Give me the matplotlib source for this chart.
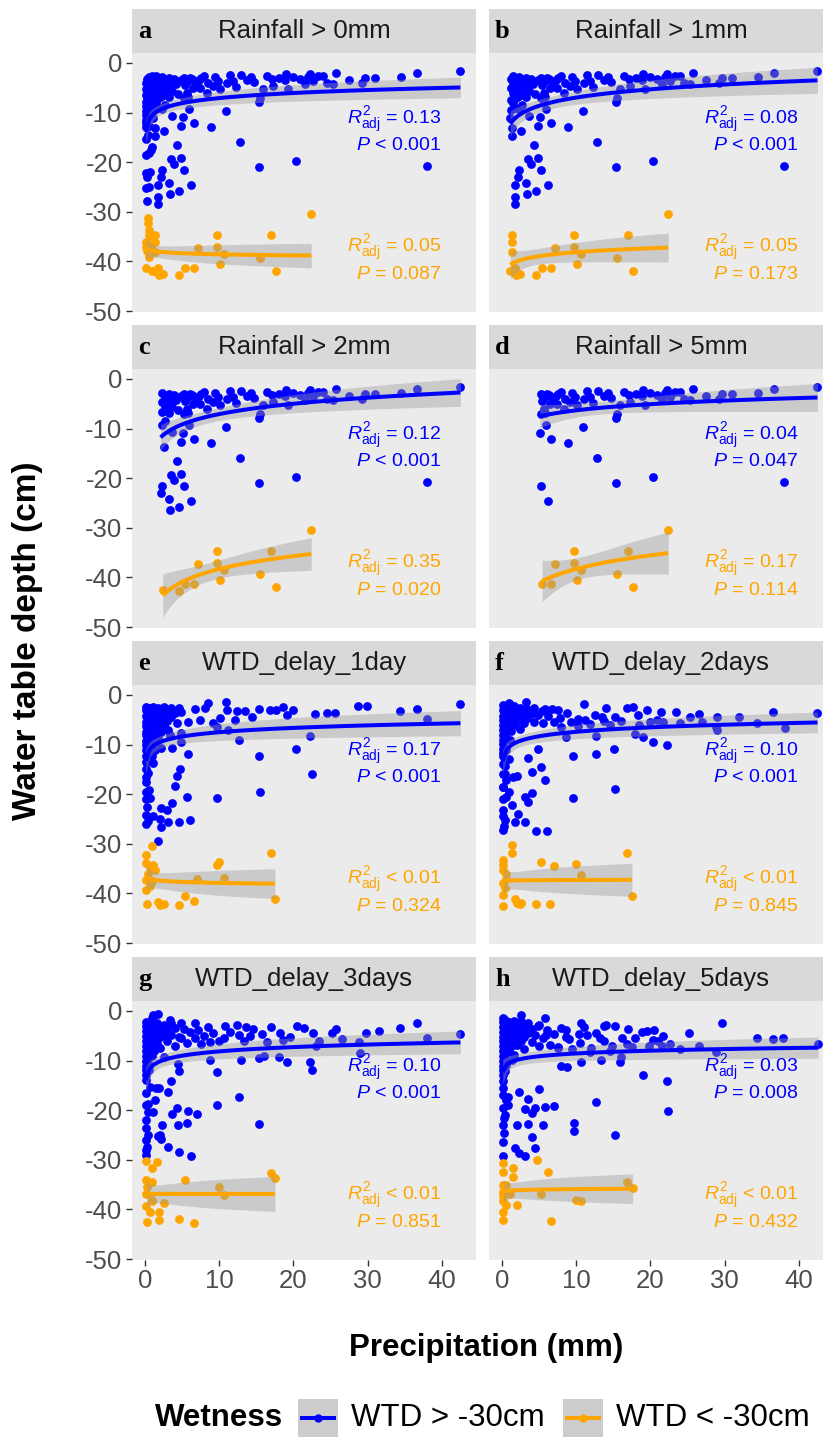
import numpy as np
import matplotlib.pyplot as plt
from matplotlib.patches import Rectangle
from matplotlib.lines import Line2D

plt.rcParams['font.family'] = ['Liberation Sans', 'DejaVu Sans']
plt.rcParams['mathtext.fontset'] = 'custom'
plt.rcParams['mathtext.rm'] = 'Liberation Sans'
plt.rcParams['mathtext.it'] = 'Liberation Sans:italic'
plt.rcParams['axes.unicode_minus'] = False

# ---- data: (precipitation mm, water table depth cm) ----
# same-day rainfall; panels a-d are subsets of it (rainfall > threshold)
rain_wet = [
    (42.5, -1.6), (36.6, -2.0), (34.5, -2.9), (29.7, -3.1), (29.2, -4.1), (25.7, -2.1),
    (25.3, -4.2), (24.5, -4.0), (23.3, -2.6), (22.6, -3.6), (21.9, -2.9), (21.6, -4.3),
    (20.9, -3.3), (19.9, -2.9), (19.3, -5.2), (18.9, -3.4), (18.1, -3.1), (17.3, -4.6),
    (17.1, -3.3), (15.9, -5.3), (15.5, -7.1), (15.4, -7.8), (14.7, -3.8), (14.3, -2.9),
    (13.7, -3.4), (12.3, -4.8), (11.8, -3.7), (11.0, -4.0), (10.1, -5.3), (9.9, -3.6),
    (9.1, -4.6), (8.5, -4.1), (8.3, -6.1), (7.6, -3.0), (7.4, -5.1), (7.3, -3.4),
    (6.9, -4.0), (6.5, -5.0), (6.3, -3.2), (6.1, -3.1), (5.8, -3.6), (5.8, -6.8),
    (5.6, -6.0), (5.4, -4.5), (5.3, -7.0), (5.2, -3.0),
    (8.0, -2.6), (9.5, -2.8), (11.5, -2.5), (13.0, -2.4), (16.5, -2.6), (19.0, -2.2),
    (22.2, -2.2), (24.0, -2.6), (27.5, -3.4), (31.0, -3.0),
    (1.3, -13.2), (1.3, -14.8), (2.6, -13.8), (4.3, -16.5), (3.5, -19.4), (4.8, -19.2),
    (3.9, -20.3), (5.3, -21.6), (2.3, -21.6), (2.1, -22.9), (1.7, -24.6), (3.2, -24.1),
    (1.8, -27.1), (1.7, -28.4), (4.6, -25.8), (6.2, -24.7), (3.4, -26.4), (6.6, -12.2),
    (8.9, -13.0), (10.9, -9.6), (12.8, -16.0), (15.4, -20.9), (20.4, -19.7), (38.0, -20.8),
    (5.1, -10.9), (3.6, -10.7), (4.9, -12.7), (5.9, -9.2),
    (0.2, -18.5), (0.6, -18.2), (0.9, -16.9), (0.2, -22.2), (0.3, -23.0), (0.5, -25.0),
    (0.2, -25.3), (0.3, -27.9), (0.4, -14.5), (0.15, -15.3), (0.7, -22.0), (0.8, -17.5),
    (0.1, -5.2), (0.1, -7.8), (0.1, -9.6), (0.1, -11.5), (0.1, -13.0),
    (0.2, -4.1), (0.2, -6.5), (0.2, -8.7), (0.2, -10.4), (0.2, -12.2),
    (0.3, -3.3), (0.3, -5.8), (0.3, -7.2), (0.3, -9.1), (0.3, -11.0),
    (0.5, -2.9), (0.5, -4.6), (0.5, -6.0), (0.5, -8.1), (0.5, -10.0), (0.5, -12.8),
    (0.7, -3.8), (0.7, -5.3), (0.7, -7.0), (0.7, -9.0),
    (0.9, -2.6), (0.9, -4.4), (0.9, -6.4), (0.9, -8.3), (0.9, -10.9),
    (1.2, -3.2), (1.2, -5.0), (1.2, -7.5), (1.2, -9.5), (1.1, -11.2),
    (1.5, -2.7), (1.5, -4.2), (1.5, -6.1), (1.5, -8.0),
    (1.9, -3.5), (1.9, -5.4), (1.9, -7.1), (1.8, -9.0),
    (2.3, -2.9), (2.3, -4.7), (2.3, -6.6), (2.3, -9.3),
    (2.7, -3.6), (2.7, -5.5), (2.7, -8.4),
    (3.2, -3.0), (3.2, -4.4), (3.2, -6.8),
    (3.6, -5.6), (3.9, -3.3), (4.2, -4.2), (4.5, -6.3), (4.8, -3.5),
]
rain_dry = [
    (0.4, -31.3), (0.4, -32.3), (0.5, -33.7), (0.6, -34.7), (0.7, -36.7), (0.8, -37.4),
    (0.5, -38.4), (0.6, -39.2), (0.3, -38.0), (0.2, -36.0), (0.2, -41.4), (0.9, -42.0),
    (0.15, -37.2), (0.9, -35.0), (1.1, -41.9), (1.3, -34.6), (1.3, -36.0), (1.4, -38.2),
    (1.7, -42.3), (1.8, -41.4), (1.9, -42.7), (2.4, -42.5), (4.6, -42.8), (5.4, -41.4),
    (6.6, -41.3), (7.1, -37.4), (9.7, -34.6), (9.7, -37.2), (10.7, -38.5), (10.1, -40.6),
    (15.5, -39.3), (17.0, -34.7), (17.6, -41.9), (22.4, -30.5),
]

lag1_wet = [
    (42.5, -1.9), (36.6, -2.9), (34.4, -3.2), (29.9, -2.3), (28.7, -2.3), (25.6, -3.6),
    (24.5, -3.7), (22.9, -3.9), (20.0, -3.0), (18.6, -2.4), (17.7, -3.0), (16.8, -3.0),
    (15.3, -2.8), (13.5, -3.2), (12.4, -3.2), (11.0, -3.0), (10.9, -1.5), (8.5, -1.7),
    (8.1, -2.7), (6.7, -2.8), (4.9, -3.4), (3.8, -3.0), (38.0, -4.9), (19.1, -4.0),
    (14.4, -4.4), (12.1, -5.0), (10.1, -4.7), (9.2, -5.7), (7.4, -5.0), (5.8, -5.4),
    (9.7, -6.4), (22.2, -8.3), (20.4, -10.9), (22.5, -15.9), (15.4, -12.4), (15.5, -19.6),
    (9.7, -20.8), (12.6, -9.1), (11.2, -7.1), (5.8, -11.9), (4.9, -9.4), (3.6, -10.6),
    (2.1, -10.6), (4.7, -15.0), (4.3, -16.3), (4.0, -18.3), (5.6, -20.6), (3.6, -21.8),
    (2.2, -22.8), (2.9, -23.2), (6.1, -25.2), (4.6, -25.7), (3.1, -25.7), (2.0, -25.0),
    (2.1, -26.7), (1.7, -29.4), (1.1, -24.5), (0.45, -25.5), (0.2, -24.2), (0.7, -20.8),
    (0.6, -19.2), (0.13, -16.5), (0.45, -15.8), (1.1, -13.8), (0.9, -12.4), (1.3, -11.1),
    (1.8, -8.7), (3.4, -8.1), (3.1, -7.1), (4.9, -7.7),
    (0.1, -15.0), (0.1, -17.5), (0.2, -19.5), (0.1, -21.0), (0.3, -22.5), (0.1, -26.0),
    (0.1, -3.0), (0.1, -5.5), (0.1, -7.4), (0.1, -9.3), (0.1, -11.2), (0.1, -13.5),
    (0.2, -2.4), (0.2, -4.3), (0.2, -6.2), (0.2, -8.1), (0.2, -10.0), (0.2, -12.3),
    (0.4, -3.4), (0.4, -5.0), (0.4, -6.9), (0.4, -8.8), (0.4, -10.7),
    (0.6, -2.6), (0.6, -4.5), (0.6, -6.0), (0.6, -7.8), (0.6, -9.7),
    (0.8, -3.1), (0.8, -5.2), (0.8, -7.3), (0.8, -11.6),
    (1.1, -2.5), (1.1, -4.0), (1.1, -5.9), (1.1, -8.0),
    (1.4, -3.3), (1.4, -5.1), (1.4, -6.9), (1.4, -9.5),
    (1.8, -2.6), (1.8, -4.3), (1.8, -6.2), (2.2, -3.0), (2.2, -5.0), (2.2, -7.4),
    (2.6, -2.4), (2.6, -4.1), (2.6, -6.0), (3.0, -3.3), (3.0, -5.3),
    (3.5, -2.7), (3.5, -4.4), (4.0, -3.6), (4.3, -5.6), (4.6, -2.7),
]
lag1_dry = [
    (0.9, -30.4), (0.2, -32.3), (0.2, -33.9), (0.7, -34.6), (1.1, -34.3), (0.45, -36.0),
    (0.2, -37.3), (0.9, -37.6), (0.7, -38.6), (0.2, -39.3), (0.3, -42.1), (1.8, -41.7),
    (2.0, -42.3), (2.5, -42.1), (4.6, -42.3), (5.4, -40.5), (6.6, -41.5), (7.0, -37.0),
    (9.7, -34.3), (10.0, -33.6), (10.6, -36.8), (17.0, -31.9), (17.5, -41.2), (1.3, -35.3),
]

lag2_wet = [
    (42.5, -3.7), (36.5, -3.4), (38.1, -6.7), (34.3, -5.7), (28.9, -6.4), (29.0, -7.1),
    (29.0, -4.5), (25.3, -4.5), (21.4, -3.5), (21.7, -5.4), (19.9, -5.4), (22.2, -10.1),
    (20.3, -9.5), (19.0, -8.4), (17.9, -7.9), (17.7, -2.5), (16.8, -2.7), (18.3, -4.0),
    (15.2, -4.5), (15.1, -10.8), (15.2, -19.0), (12.7, -8.3), (12.7, -11.9), (13.5, -4.5),
    (12.5, -4.0), (11.0, -1.8), (11.2, -5.0), (9.6, -12.4), (9.6, -20.7), (8.7, -3.7),
    (8.6, -8.5), (7.6, -3.0), (6.7, -2.9), (5.8, -2.9), (4.9, -10.9), (5.3, -14.6),
    (5.8, -17.1), (4.1, -15.5), (3.5, -12.8), (4.0, -19.7), (3.1, -20.5), (3.5, -21.5),
    (4.6, -27.4), (6.1, -27.4), (3.1, -25.7), (2.2, -23.9), (1.7, -25.7), (1.5, -16.5),
    (2.0, -16.3), (3.3, -1.5), (0.9, -1.7),
    (0.2, -18.5), (0.2, -23.2), (0.2, -27.2), (0.4, -25.2), (0.6, -20.5), (0.4, -14.4),
    (0.6, -17.1), (0.2, -12.4), (1.1, -9.1), (0.6, -11.1), (0.9, -19.5), (1.3, -22.2),
    (0.1, -16.0), (0.1, -18.5), (0.1, -21.0), (0.1, -24.5), (0.3, -26.5),
    (0.1, -2.0), (0.1, -4.2), (0.1, -6.1), (0.1, -8.0), (0.1, -9.9), (0.1, -11.8), (0.1, -14.0),
    (0.2, -3.0), (0.2, -5.1), (0.2, -7.0), (0.2, -9.0), (0.2, -10.9),
    (0.4, -2.3), (0.4, -4.0), (0.4, -5.8), (0.4, -7.7), (0.4, -16.0),
    (0.6, -3.4), (0.6, -5.2), (0.6, -6.9), (0.6, -8.6),
    (0.9, -2.6), (0.9, -4.6), (0.9, -6.3), (0.9, -13.0),
    (1.2, -3.1), (1.2, -5.0), (1.2, -7.2), (1.6, -2.2), (1.6, -4.1), (1.6, -6.0),
    (2.0, -3.3), (2.0, -5.3), (2.4, -2.6), (2.4, -4.4), (2.4, -6.8),
    (2.9, -3.6), (2.9, -5.6), (3.4, -2.9), (3.4, -4.7), (3.9, -3.8), (4.3, -2.6),
    (4.3, -5.5), (4.9, -4.0), (5.4, -3.3), (5.5, -5.7), (6.2, -4.3), (7.0, -5.5),
    (7.8, -4.6), (8.0, -6.5), (9.3, -5.4), (10.2, -4.8), (10.3, -6.3), (11.9, -5.8),
    (13.8, -5.3), (14.5, -6.0), (16.0, -5.2), (18.5, -6.1), (20.9, -5.0), (24.0, -5.6),
    (27.0, -5.5), (14.0, -2.6), (19.5, -3.0), (23.5, -3.4), (26.5, -3.8), (32.0, -4.4),
]
lag2_dry = [
    (1.4, -30.2), (1.3, -31.8), (0.2, -33.3), (0.2, -34.3), (0.2, -35.3), (0.6, -36.0),
    (0.2, -38.0), (0.4, -39.0), (0.2, -40.3), (0.2, -42.5), (1.7, -41.2), (2.0, -42.0),
    (2.4, -42.1), (2.6, -42.0), (4.6, -42.1), (6.5, -42.1), (5.3, -33.7), (7.0, -34.4),
    (10.0, -34.1), (10.6, -36.3), (16.9, -31.8), (17.5, -40.5), (0.6, -37.0),
]

lag3_wet = [
    (42.5, -4.7), (38.0, -5.4), (36.6, -2.5), (34.4, -3.5), (29.8, -4.4), (28.9, -6.2),
    (29.0, -8.4), (25.2, -4.5), (23.1, -7.0), (22.7, -4.5), (21.4, -3.4), (22.2, -10.3),
    (22.5, -11.9), (19.2, -10.2), (18.0, -9.2), (18.6, -5.8), (18.2, -4.5), (17.0, -3.2),
    (15.7, -4.7), (14.6, -3.6), (13.6, -3.2), (12.4, -2.8), (12.6, -4.8), (15.4, -9.5),
    (16.0, -9.0), (12.9, -9.9), (12.6, -17.3), (15.3, -22.8), (9.7, -19.0), (9.7, -12.4),
    (10.8, -3.0), (10.7, -5.5), (8.7, -9.9), (8.7, -6.2), (8.5, -3.2), (6.7, -2.5),
    (6.7, -5.5), (4.9, -2.5), (4.9, -5.5), (7.0, -20.8), (5.8, -20.1), (4.3, -19.6),
    (3.6, -20.8), (4.4, -23.0), (5.6, -22.6), (6.2, -29.2), (4.6, -28.4), (3.1, -27.4),
    (2.2, -25.8), (2.0, -25.0), (2.3, -23.0), (3.5, -14.2), (3.1, -16.3), (4.6, -12.2),
    (4.4, -10.6), (1.9, -15.5), (1.3, -17.9), (0.45, -18.8), (0.45, -20.3), (0.2, -22.0),
    (0.45, -25.0), (0.3, -27.4), (0.13, -29.0), (1.7, -25.3), (1.1, -20.3), (0.7, -15.3),
    (1.5, -15.6), (1.1, -0.8), (1.7, -0.7), (0.9, -1.5), (3.4, -1.8),
    (0.1, -16.5), (0.1, -19.0), (0.1, -23.5), (0.2, -26.0), (0.1, -28.0),
    (0.1, -2.2), (0.1, -4.1), (0.1, -6.0), (0.1, -8.0), (0.1, -10.0), (0.1, -12.0), (0.1, -14.0),
    (0.2, -3.1), (0.2, -5.1), (0.2, -7.0), (0.2, -9.0), (0.2, -11.0), (0.2, -13.0),
    (0.4, -2.6), (0.4, -4.5), (0.4, -6.5), (0.4, -8.4), (0.4, -10.5),
    (0.6, -3.5), (0.6, -5.5), (0.6, -7.6), (0.6, -12.0),
    (0.9, -2.9), (0.9, -4.8), (0.9, -6.8), (0.9, -9.0),
    (1.2, -3.8), (1.2, -5.8), (1.2, -8.0), (1.6, -2.4), (1.6, -4.4), (1.6, -6.5),
    (2.0, -3.3), (2.0, -5.2), (2.0, -7.5), (2.5, -2.8), (2.5, -4.6), (2.5, -9.2),
    (3.0, -3.6), (3.0, -6.0), (3.5, -2.5), (3.5, -4.9), (4.0, -3.4), (4.0, -7.0),
    (4.6, -5.2), (5.3, -3.6), (5.7, -6.4), (6.1, -4.3), (7.2, -3.9), (7.5, -6.6),
    (8.0, -5.0), (9.2, -4.4), (10.0, -6.0), (11.4, -4.2), (13.3, -6.1), (14.1, -5.0),
    (16.5, -6.3), (19.6, -5.2), (23.5, -6.0), (26.5, -5.7), (20.5, -3.0), (25.8, -3.6),
    (31.5, -4.0),
]
lag3_dry = [
    (0.2, -30.2), (1.6, -30.5), (0.9, -31.6), (0.2, -34.1), (0.9, -34.5), (0.3, -35.4),
    (0.2, -36.8), (0.9, -38.1), (0.2, -39.4), (0.7, -40.5), (1.9, -40.5), (0.3, -42.6),
    (1.9, -42.1), (4.6, -42.0), (6.6, -42.7), (5.4, -34.1), (10.0, -35.4), (10.6, -37.2),
    (17.0, -32.6), (17.5, -33.7), (1.0, -38.4), (2.5, -38.8),
]

lag5_wet = [
    (42.6, -6.7), (37.9, -5.4), (36.5, -5.7), (34.3, -5.5), (29.7, -2.4), (28.9, -8.3),
    (25.2, -4.5), (22.7, -6.7), (21.7, -5.0), (20.3, -5.8), (21.5, -7.0), (22.2, -14.2),
    (22.4, -20.1), (19.0, -12.9), (19.5, -4.0), (18.9, -4.3), (17.9, -5.5), (16.8, -6.7),
    (15.2, -3.0), (14.8, -7.0), (16.1, -9.2), (15.9, -10.2), (15.2, -25.0), (13.7, -3.0),
    (13.2, -5.4), (12.7, -4.4), (12.7, -18.3), (13.3, -9.9), (11.8, -8.2), (10.7, -2.5),
    (10.4, -4.7), (10.7, -10.2), (9.7, -22.6), (9.7, -24.2), (8.6, -3.8), (8.6, -5.2),
    (8.8, -11.4), (8.0, -11.2), (7.6, -7.3), (7.0, -19.2), (5.8, -19.4), (5.8, -1.5),
    (4.4, -19.5), (5.0, -15.7), (3.5, -17.8), (3.1, -19.8), (4.1, -20.6), (3.5, -22.8),
    (2.0, -23.0), (5.5, -23.0), (4.0, -25.5), (4.4, -27.6), (3.1, -29.2), (2.3, -28.7),
    (1.7, -27.7), (2.3, -16.3), (2.6, -0.8), (4.8, -3.0), (5.9, -4.8),
    (0.2, -29.2), (0.3, -24.7), (0.3, -21.6), (0.4, -21.0), (0.85, -19.0), (0.6, -17.9),
    (0.85, -17.3), (0.2, -14.2), (0.4, -12.2), (0.6, -10.9), (1.3, -9.9), (1.5, -6.9),
    (0.1, -17.0), (0.1, -19.5), (0.1, -23.0), (0.1, -26.5),
    (0.1, -1.5), (0.1, -3.3), (0.1, -5.2), (0.1, -7.1), (0.1, -9.0), (0.1, -11.0),
    (0.1, -13.0), (0.1, -15.5),
    (0.2, -2.3), (0.2, -4.2), (0.2, -6.1), (0.2, -8.0), (0.2, -10.0), (0.2, -12.0),
    (0.4, -1.8), (0.4, -3.7), (0.4, -5.6), (0.4, -7.5), (0.4, -9.4),
    (0.6, -2.9), (0.6, -4.8), (0.6, -6.6), (0.6, -8.5),
    (0.9, -2.2), (0.9, -4.0), (0.9, -5.9), (0.9, -7.8),
    (1.2, -3.2), (1.2, -5.0), (1.2, -7.0), (1.6, -2.0), (1.6, -3.9), (1.6, -5.8), (1.6, -8.8),
    (2.0, -3.0), (2.0, -4.9), (2.0, -6.9), (2.5, -2.0), (2.5, -4.0), (2.5, -6.0),
    (3.0, -3.2), (3.0, -5.2), (3.0, -7.6), (3.5, -2.5), (3.5, -4.5), (4.0, -3.6),
    (4.0, -6.2), (4.5, -4.8), (5.0, -2.8), (5.0, -7.0), (5.5, -5.5), (6.0, -3.9),
    (6.5, -6.8), (7.0, -4.6), (7.5, -7.5), (8.0, -3.4), (9.0, -5.6), (9.5, -7.6),
    (10.5, -6.5), (11.5, -4.9), (12.0, -7.4), (13.8, -6.0), (14.5, -8.1), (16.2, -5.4),
    (17.5, -7.3), (19.8, -7.1), (21.0, -6.1), (24.0, -7.6), (26.5, -7.0),
    (11.0, -3.2), (14.0, -2.8), (17.0, -3.6), (20.5, -3.8),
]
lag5_dry = [
    (0.2, -30.7), (0.2, -32.4), (1.5, -31.7), (1.5, -33.4), (4.7, -30.0), (6.2, -32.5),
    (0.2, -35.1), (0.2, -36.4), (1.1, -36.8), (0.2, -38.4), (0.6, -39.1), (2.0, -39.1),
    (0.2, -40.5), (0.2, -42.1), (6.6, -42.3), (5.3, -36.8), (10.0, -38.1), (10.6, -38.3),
    (16.8, -34.5), (17.6, -35.6), (0.6, -35.1), (0.2, -37.4),
]

panel_titles = ['Rainfall > 0mm', 'Rainfall > 1mm', 'Rainfall > 2mm', 'Rainfall > 5mm',
                'WTD_delay_1day', 'WTD_delay_2days', 'WTD_delay_3days', 'WTD_delay_5days']
panel_letters = ['a', 'b', 'c', 'd', 'e', 'f', 'g', 'h']
panel_wet = [rain_wet, rain_wet, rain_wet, rain_wet, lag1_wet, lag2_wet, lag3_wet, lag5_wet]
panel_dry = [rain_dry, rain_dry, rain_dry, rain_dry, lag1_dry, lag2_dry, lag3_dry, lag5_dry]
rain_threshold = [0, 1, 2, 5, 0, 0, 0, 0]
wet_r2 = ['= 0.13', '= 0.08', '= 0.12', '= 0.04', '= 0.17', '= 0.10', '= 0.10', '= 0.03']
wet_p = ['< 0.001', '< 0.001', '< 0.001', '= 0.047', '< 0.001', '< 0.001', '< 0.001', '= 0.008']
dry_r2 = ['= 0.05', '= 0.05', '= 0.35', '= 0.17', '< 0.01', '< 0.01', '< 0.01', '< 0.01']
dry_p = ['= 0.087', '= 0.173', '= 0.020', '= 0.114', '= 0.324', '= 0.845', '= 0.851', '= 0.432']

BLUE = '#0000FF'
ORANGE = '#FFA500'


def log_fit(x, y, n_grid=80):
    """lm(y ~ log(x)) with 95% confidence band, like geom_smooth"""
    lx = np.log(x)
    n = len(x)
    b, a = np.polyfit(lx, y, 1)
    resid = y - (a + b * lx)
    s2 = resid @ resid / (n - 2)
    sxx = ((lx - lx.mean()) ** 2).sum()
    xg = np.linspace(x.min(), x.max(), n_grid)
    lg = np.log(xg)
    fit = a + b * lg
    se = np.sqrt(s2 * (1 / n + (lg - lx.mean()) ** 2 / sxx))
    t = 1.96 + 2.5 / (n - 2)
    return xg, fit, fit - t * se, fit + t * se


W, H = 823, 1437
fig = plt.figure(figsize=(W / 100, H / 100), dpi=100)


def fx(px):
    return px / W


def fy(py):
    return 1 - py / H


col_left = [132, 489]
panel_w, panel_h, strip_h = 344, 259, 44
row_top = [53, 369, 685, 1001]

for i in range(8):
    r, c = divmod(i, 2)
    ax = fig.add_axes([fx(col_left[c]), fy(row_top[r] + panel_h), panel_w / W, panel_h / H])
    ax.set_facecolor('#EBEBEB')
    for s in ax.spines.values():
        s.set_visible(False)

    for pts, col in ((panel_wet[i], BLUE), (panel_dry[i], ORANGE)):
        arr = np.array(pts)
        arr = arr[arr[:, 0] > rain_threshold[i]]
        x, y = arr[:, 0], arr[:, 1]
        ax.scatter(x, y, s=40, color=col, linewidths=0, zorder=2)
        xg, fit, lo, hi = log_fit(x, y)
        ax.fill_between(xg, lo, hi, color='#999999', alpha=0.4, lw=0, zorder=3)
        ax.plot(xg, fit, color=col, lw=2.9, zorder=4, solid_capstyle='butt')

    # annotations
    ax.text(39.9, -12.3, r'$R^2_{\mathrm{adj}}$ ' + wet_r2[i], color=BLUE, ha='right',
            va='baseline', fontsize=14, zorder=5)
    ax.text(39.9, -17.5, r'$P$ ' + wet_p[i], color=BLUE, ha='right', va='baseline',
            fontsize=14, zorder=5)
    ax.text(39.9, -38.2, r'$R^2_{\mathrm{adj}}$ ' + dry_r2[i], color=ORANGE, ha='right',
            va='baseline', fontsize=14, zorder=5)
    ax.text(39.9, -43.6, r'$P$ ' + dry_p[i], color=ORANGE, ha='right', va='baseline',
            fontsize=14, zorder=5)

    ax.set_xlim(-1.75, 44.6)
    ax.set_ylim(-50.2, 2.0)
    ax.set_xticks([0, 10, 20, 30, 40])
    ax.set_yticks([-50, -40, -30, -20, -10, 0])
    ax.tick_params(length=4.3, width=1.0, color='#333333', labelcolor='#4D4D4D',
                   labelsize=18.5, pad=2.5)
    if c == 1:
        ax.tick_params(left=False, labelleft=False)
    if r < 3:
        ax.tick_params(bottom=False, labelbottom=False)

    # facet strip
    sh = strip_h / panel_h
    ax.add_patch(Rectangle((0, 1), 1, sh, transform=ax.transAxes, facecolor='#D9D9D9',
                           lw=0, clip_on=False))
    ax.text(0.5, 1 + sh / 2, panel_titles[i], transform=ax.transAxes, ha='center',
            va='center', fontsize=18.5, color='#1A1A1A')
    ax.text(6 / panel_w, 1 + sh / 2, panel_letters[i], transform=ax.transAxes, ha='left',
            va='center', fontsize=19, fontweight='bold', family='Liberation Serif')

fig.text(fx(28), fy(641), 'Water table depth (cm)', rotation=90, ha='center', va='center',
         fontsize=24, fontweight='bold')
fig.text(fx(486), fy(1348), 'Precipitation (mm)', ha='center', va='center',
         fontsize=22.5, fontweight='bold')

# legend
ly = 1418
fig.text(fx(155), fy(ly), 'Wetness', ha='left', va='center', fontsize=22.5, fontweight='bold')
for kx, col, lab in ((298, BLUE, 'WTD > -30cm'), (563, ORANGE, 'WTD < -30cm')):
    fig.add_artist(Rectangle((fx(kx), fy(1437)), 40 / W, 38 / H, transform=fig.transFigure,
                             facecolor='#CCCCCC', lw=0))
    fig.add_artist(Line2D([fx(kx + 4), fx(kx + 36)], [fy(ly), fy(ly)], color=col, lw=2.9,
                          transform=fig.transFigure))
    fig.add_artist(Line2D([fx(kx + 20)], [fy(ly)], marker='o', ms=5, color=col,
                          transform=fig.transFigure))
    fig.text(fx(kx + 53), fy(ly), lab, ha='left', va='center', fontsize=22.5)

fig.savefig('out.png', dpi=100)
